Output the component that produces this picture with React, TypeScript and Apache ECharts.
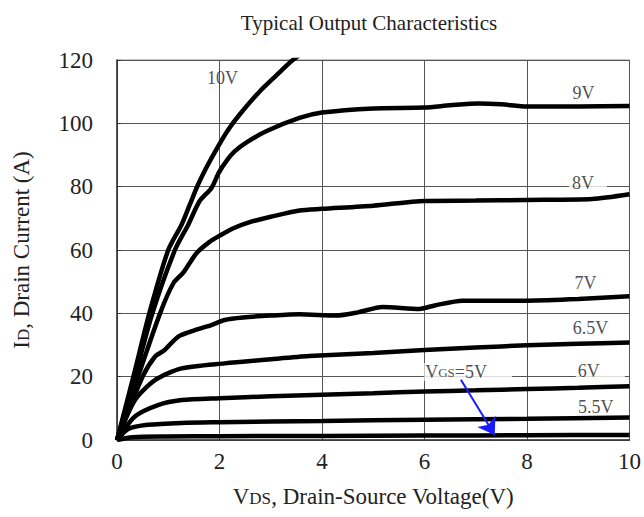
import React, { useEffect, useRef } from "react";
import * as echarts from "echarts";

// Drain current curves, [VDS (V), ID (A)]
const vgs10: [number, number][] = [
  [0, 0], [0.32, 20], [0.63, 40], [1.0, 60], [1.26, 68], [1.42, 74.3], [1.58, 80.6], [1.74, 85.9],
  [1.99, 93.2], [2.17, 98], [2.39, 102.7], [2.78, 110], [3.1, 115], [3.43, 120], [3.7, 123],
];
const vgs9: [number, number][] = [
  [0, 0], [0.35, 20], [0.69, 40], [1.13, 60], [1.39, 68], [1.61, 75.4], [1.84, 79.5], [1.99, 84.5],
  [2.13, 88], [2.3, 91.2], [2.55, 94.2], [2.91, 97.5], [3.56, 101.7], [4, 103.4], [5, 104.7], [6, 105],
  [6.5, 105.7], [7.06, 106.3], [7.5, 106], [8, 105.3], [9, 105.3], [10, 105.5],
];
const vgs8: [number, number][] = [
  [0, 0], [0.41, 20], [0.84, 40], [1.1, 49.5], [1.3, 53], [1.55, 59], [1.8, 62.5], [2, 64.5],
  [2.26, 66.8], [2.59, 68.8], [3, 70.5], [3.56, 72.5], [4, 73], [5, 74], [6, 75.5], [7, 75.6], [8, 75.8],
  [9.27, 76.1], [10, 77.6],
];
const vgs7: [number, number][] = [
  [0, 0], [0.5, 20], [0.74, 26.3], [0.93, 28.4], [1.19, 32.6], [1.52, 34.7], [1.84, 36.3],
  [2.1, 37.9], [2.46, 38.7], [3, 39.3], [3.56, 39.7], [4.27, 39.3], [4.7, 40.3], [5.18, 42],
  [5.9, 41.4], [6.2, 42.5], [6.74, 44], [8, 44], [9, 44.5], [10, 45.4],
];
const vgs65: [number, number][] = [
  [0, 0], [0.35, 12.6], [0.74, 18.9], [1.26, 22.6], [2.1, 24.2], [3, 25.5], [3.75, 26.5],
  [5, 27.5], [6, 28.4], [7, 29.2], [8, 29.9], [9, 30.4], [10, 30.8],
];
const vgs6: [number, number][] = [
  [0, 0], [0.35, 7.4], [0.8, 11], [1.26, 12.6], [2, 13.2], [3, 13.8], [4, 14.3], [5, 14.8],
  [6, 15.3], [7, 15.7], [8, 16.1], [9, 16.5], [10, 17],
];
const vgs55: [number, number][] = [
  [0, 0], [0.22, 3.5], [0.6, 4.8], [1.26, 5.4], [2, 5.6], [4, 6], [6, 6.4], [8, 6.7], [10, 7.1],
];
const vgs5: [number, number][] = [
  [0, 0], [0.3, 0.9], [1, 1.1], [2, 1.2], [4, 1.3], [6, 1.4], [8, 1.5], [10, 1.6],
];

const curves = [vgs10, vgs9, vgs8, vgs7, vgs65, vgs6, vgs55, vgs5];

// Curve labels: text and anchor in data coordinates
const labelTexts = ["10V", "9V", "8V", "7V", "6.5V", "6V", "5.5V", "{v|V}{s|GS}{v|=5V}"];
const labelPos: [number, number][] = [
  [2.06, 114.3], [9.1, 109.6], [9.19, 81.2], [9.14, 49.6], [9.24, 35.4], [9.43, 21.8], [9.34, 10.4], [6.85, 21.5],
];
const labelBoxed = [false, false, true, false, false, true, false, true];
const labelPad: number[][] = [
  [0, 0, 0, 0], [0, 0, 0, 0], [0, 13, 0, 3], [0, 0, 0, 0], [0, 0, 0, 0], [0, 25, 0, 2], [0, 0, 0, 0], [0, 25, 0, 1],
];

// Arrow from the VGS=5V label to its curve
const arrowFrom: [number, number] = [6.71, 19];
const arrowTo: [number, number] = [7.37, 1.6];

const xTicks = { min: 0, max: 10, interval: 2 };
const yTicks = { min: 0, max: 120, interval: 20 };

const FONT = "'Liberation Serif', 'Times New Roman', serif";
const TXT = "#222";

export default function App() {
  const ref = useRef<HTMLDivElement>(null);
  useEffect(() => {
    if (!ref.current) return;
    const chart = echarts.init(ref.current, null, { renderer: "svg" });
    const series: any[] = curves.map((c) => ({
      type: "line",
      data: c,
      smooth: 0.25,
      showSymbol: false,
      symbol: "none",
      clip: true,
      lineStyle: { color: "#000", width: 4.5 },
      z: 3,
    }));
    series.push({
      type: "scatter",
      symbolSize: 0,
      z: 5,
      data: labelTexts.map((t, i) => ({
        value: labelPos[i],
        label: {
          show: true,
          position: "inside",
          formatter: t,
          fontFamily: FONT,
          fontSize: 18,
          color: TXT,
          backgroundColor: labelBoxed[i] ? "#fff" : "transparent",
          padding: labelPad[i],
          rich: {
            v: { fontFamily: FONT, fontSize: 18, color: TXT },
            s: { fontFamily: FONT, fontSize: 13, color: TXT, padding: [2, 0, 0, 0] },
          },
        },
      })),
    });
    series.push({
      type: "lines",
      coordinateSystem: "cartesian2d",
      z: 6,
      symbol: ["none", "arrow"],
      symbolSize: 16,
      lineStyle: { color: "#1a1aff", width: 2, opacity: 1 },
      data: [{ coords: [arrowFrom, arrowTo] }],
    });
    chart.setOption({
      animation: false,
      backgroundColor: "#fff",
      title: {
        text: "Typical Output Characteristics",
        left: 364,
        top: 7,
        textAlign: "center",
        textStyle: { fontFamily: FONT, fontSize: 21, fontWeight: "normal", color: TXT },
      },
      grid: { left: 117, right: 13, top: 60, bottom: 77, show: true, borderColor: "#888", borderWidth: 1 },
      xAxis: {
        type: "value",
        ...xTicks,
        name: "{b|V}{s|DS}{b|, Drain-Source Voltage(V)}",
        nameLocation: "middle",
        nameGap: 45,
        nameTextStyle: {
          rich: {
            b: { fontFamily: FONT, fontSize: 23, color: TXT },
            s: { fontFamily: FONT, fontSize: 17, color: TXT, padding: [3, 0, 0, 0] },
          },
        },
        axisLine: { show: true, lineStyle: { color: "#333", width: 1.5 } },
        axisTick: { show: false },
        axisLabel: { fontFamily: FONT, fontSize: 23, color: TXT, margin: 10 },
        splitLine: { show: true, lineStyle: { color: "#555", width: 1 } },
      },
      yAxis: {
        type: "value",
        ...yTicks,
        name: "{b|I}{s|D}{b|, Drain Current (A)}",
        nameLocation: "middle",
        nameGap: 84,
        nameTextStyle: {
          rich: {
            b: { fontFamily: FONT, fontSize: 23, color: TXT },
            s: { fontFamily: FONT, fontSize: 17, color: TXT, padding: [3, 0, 0, 0] },
          },
        },
        axisLine: { show: true, lineStyle: { color: "#333", width: 1.5 } },
        axisTick: { show: true, inside: true, length: 4, lineStyle: { color: "#333" } },
        axisLabel: { fontFamily: FONT, fontSize: 23, color: TXT, margin: 24 },
        splitLine: { show: true, lineStyle: { color: "#555", width: 1 } },
      },
      series,
    });
    return () => chart.dispose();
  }, []);
  return <div ref={ref} style={{ position: "absolute", left: 0, top: 0, width: 644, height: 517 }} />;
}
